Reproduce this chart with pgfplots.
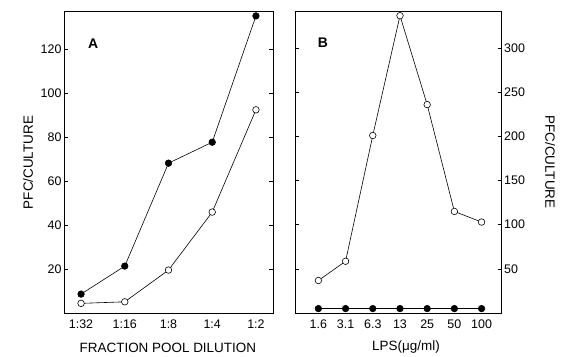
\documentclass[border=0pt]{standalone}
\usepackage{pgfplots}
\pgfplotsset{compat=1.18}
\usepackage{fontspec}
\setmainfont{Liberation Sans}
\begin{document}
\begin{tikzpicture}
\path[use as bounding box] (0,0) rectangle (564bp,357bp);
\pgfplotsset{
  panel/.style={
    scale only axis,
    height=302bp,
    ymin=0,
    axis line style={line width=0.6pt},
    tick style={line width=0.6pt, black},
    major tick length=4bp,
    tick align=inside,
    /pgf/number format/assume math mode=true,
    tick label style={font=\fontsize{12.5}{13}\selectfont},
    label style={font=\fontsize{13.5}{14}\selectfont},
    xtick=data,
    every axis plot/.append style={line width=0.6pt, black},
  },
  openm/.style={mark=*, mark options={fill=white, draw=black, line width=0.6pt}, mark size=3.3pt},
  fillm/.style={mark=*, mark options={fill=black, draw=black}, mark size=3.3pt},
}
% Panel A
\begin{axis}[panel,
  at={(64bp,43.5bp)}, anchor=south west,
  width=209bp,
  xmin=-0.39, xmax=4.39,
  ymax=137,
  ytick={20,40,60,80,100,120},
  xticklabels={1:32,1:16,1:8,1:4,1:2},
  xtick style={draw=none},
  yticklabel style={xshift=1bp},
  xticklabel style={yshift=-3bp},
  ylabel={PFC/CULTURE},
  ylabel style={at={(axis description cs:-0.172,0.5)}, anchor=center},
  xlabel={FRACTION POOL DILUTION},
  xlabel style={at={(axis description cs:0.497,-0.114)}, anchor=center},
]
\addplot[fillm] coordinates {(0,8.8) (1,21.5) (2,68.2) (3,77.7) (4,135)};
\addplot[openm] coordinates {(0,4.6) (1,5.3) (2,19.7) (3,46) (4,92.4)};
\node[font=\bfseries\fontsize{14}{14}\selectfont] at (axis description cs:0.14,0.895) {A};
\end{axis}
% Panel B
\begin{axis}[panel,
  at={(295bp,44bp)}, anchor=south west,
  width=206.7bp,
  xmin=-0.86, xmax=6.74,
  ymax=342,
  ytick={50,100,150,200,250,300},
  yticklabel pos=right,
  xticklabels={1.6,3.1,6.3,13,25,50,100},
  xtick style={draw=none},
  yticklabel style={xshift=-1bp},
  xticklabel style={yshift=-3bp},
  ylabel={PFC/CULTURE},
  ylabel style={at={(axis description cs:1.234,0.5)}, anchor=center, rotate=180},
  xlabel={LPS(μg/ml)},
  xlabel style={at={(axis description cs:0.537,-0.114)}, anchor=center},
]
\addplot[openm] coordinates {(0,36.8) (1,58.6) (2,201) (3,336.7) (4,236) (5,115) (6,103)};
\addplot[fillm] coordinates {(0,5) (1,5) (2,5) (3,5) (4,5) (5,5) (6,5)};
\node[font=\bfseries\fontsize{14}{14}\selectfont] at (axis description cs:0.135,0.895) {B};
\end{axis}
\end{tikzpicture}
\end{document}
